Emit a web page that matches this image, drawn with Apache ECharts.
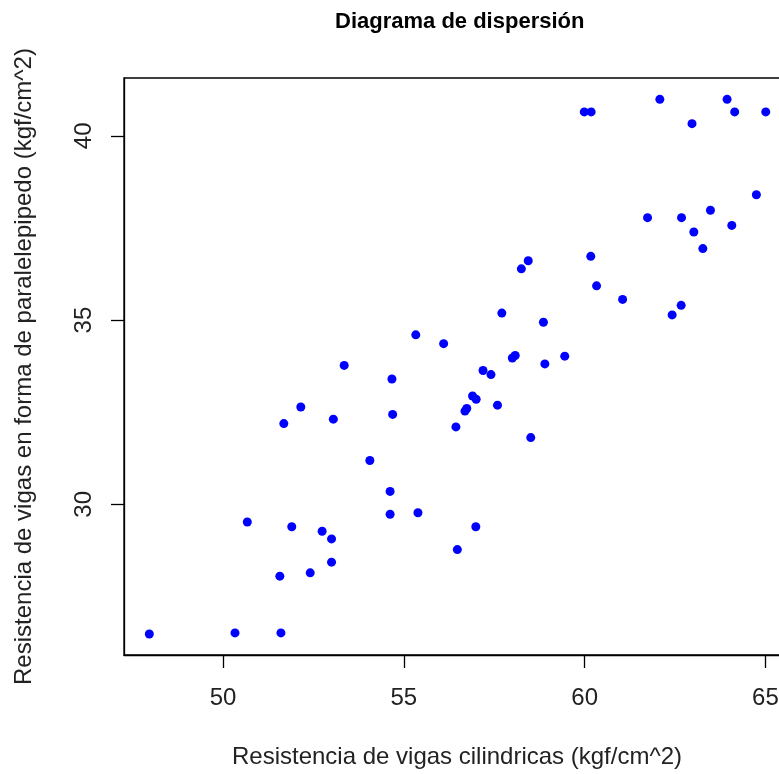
<!DOCTYPE html>
<html>
<head>
<meta charset="utf-8">
<script src="https://cdn.jsdelivr.net/npm/echarts@6/dist/echarts.min.js"></script>
<style>html,body{margin:0;padding:0;background:#fff}#c{width:779px;height:774px}</style>
</head>
<body>
<div id="c"></div>
<script>
const titleText = 'Diagrama de dispersión';
const xName = 'Resistencia de vigas cilindricas (kgf/cm^2)';
const yName = 'Resistencia de vigas en forma de paralelepipedo (kgf/cm^2)';
const xTicks = [50, 55, 60, 65];
const yTicks = [30, 35, 40];
const cilindricas = [
  55.33, 56.10, 53.35, 62.08, 59.99, 60.18, 63.94, 64.15, 65.01, 62.97,
  64.75, 63.48, 61.74, 62.68, 64.07, 63.02, 63.27, 58.44, 58.25, 60.17,
  60.33, 61.05, 57.71, 58.86, 62.67, 62.42, 58.00, 58.08, 58.90, 59.45,
  57.19, 57.41, 56.90, 57.00, 56.74, 56.69, 57.59, 56.44, 58.51, 56.99,
  56.48, 54.67, 52.15, 51.68, 53.05, 54.69, 54.06, 54.62, 54.62, 55.39,
  50.67, 51.90, 52.74, 53.00, 53.00, 51.57, 52.41, 47.96, 50.33, 51.60
];
const paralelepipedo = [
  34.60, 34.36, 33.77, 40.99, 40.65, 40.65, 40.99, 40.65, 40.65, 40.33,
  38.40, 37.98, 37.78, 37.78, 37.57, 37.39, 36.94, 36.61, 36.39, 36.73,
  35.93, 35.56, 35.19, 34.94, 35.40, 35.14, 33.97, 34.04, 33.81, 34.02,
  33.63, 33.52, 32.94, 32.85, 32.60, 32.53, 32.69, 32.10, 31.81, 29.39,
  28.77, 33.40, 32.64, 32.19, 32.31, 32.44, 31.19, 30.35, 29.73, 29.77,
  29.52, 29.39, 29.27, 29.06, 28.43, 28.05, 28.14, 26.48, 26.51, 26.51
];
const points = cilindricas.map((x, i) => [x, paralelepipedo[i]]);
const FONT = '"Liberation Sans", Arial, sans-serif';

const chart = echarts.init(document.getElementById('c'), null, {renderer: 'canvas'});
chart.setOption({
  animation: false,
  backgroundColor: '#ffffff',
  title: {
    text: titleText, left: 330, top: 6,
    textStyle: {fontFamily: FONT, fontSize: 22, fontWeight: 'bold', color: '#000'}
  },
  grid: {
    left: 124, top: 78, right: -11, bottom: 119,
    containLabel: false, outerBoundsMode: 'none',
    show: true, borderColor: '#000', borderWidth: 1.3, backgroundColor: 'transparent'
  },
  xAxis: {
    type: 'value', min: 47.26, max: 65.68,
    name: xName, nameLocation: 'middle', nameGap: 90,
    nameTextStyle: {fontFamily: FONT, fontSize: 24, color: '#222'},
    axisLine: {show: true, onZero: false, lineStyle: {color: '#000', width: 1.3}},
    axisTick: {show: true, inside: false, length: 13, customValues: xTicks, lineStyle: {color: '#000', width: 1.3}},
    axisLabel: {show: true, margin: 31, customValues: xTicks, fontFamily: FONT, fontSize: 24, color: '#222'},
    splitLine: {show: false}
  },
  yAxis: {
    type: 'value', min: 25.91, max: 41.57,
    name: yName, nameLocation: 'middle', nameGap: 88, nameRotate: 90,
    nameTextStyle: {fontFamily: FONT, fontSize: 24, color: '#222'},
    axisLine: {show: true, onZero: false, lineStyle: {color: '#000', width: 1.3}},
    axisTick: {show: true, inside: false, length: 13, customValues: yTicks, lineStyle: {color: '#000', width: 1.3}},
    axisLabel: {show: true, rotate: 90, margin: 28, customValues: yTicks, fontFamily: FONT, fontSize: 24, color: '#222'},
    splitLine: {show: false}
  },
  series: [{
    type: 'scatter',
    data: points,
    symbol: 'circle',
    symbolSize: 9,
    itemStyle: {color: '#0000ff', opacity: 1}
  }]
});
</script>
</body>
</html>
